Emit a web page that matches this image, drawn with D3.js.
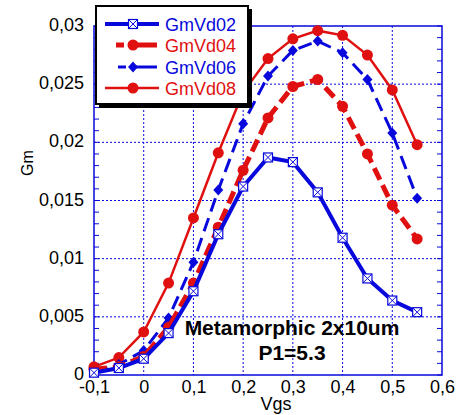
<!DOCTYPE html>
<html>
<head>
<meta charset="utf-8">
<script src="https://cdn.jsdelivr.net/npm/d3@7"></script>
<style>
  body { margin: 0; background: #fff; }
  text { font-family: "Liberation Sans", Arial, sans-serif; }
</style>
</head>
<body>
<div id="container"></div>
<script>
const vgs = [-0.1, -0.05, 0, 0.05, 0.1, 0.15, 0.2, 0.25, 0.3, 0.35, 0.4, 0.45, 0.5, 0.55];
const gmVd02 = [0.0002, 0.0006, 0.0014, 0.0036, 0.0072, 0.0121, 0.0162, 0.0187, 0.0183, 0.0157, 0.0118, 0.0083, 0.0064, 0.0054];
const gmVd04 = [0.0005, 0.0007, 0.0016, 0.0041, 0.0079, 0.0127, 0.0176, 0.0221, 0.0248, 0.0254, 0.0231, 0.0190, 0.0146, 0.0117];
const gmVd06 = [0.0003, 0.0009, 0.0021, 0.0049, 0.0097, 0.0159, 0.0216, 0.0257, 0.0279, 0.0287, 0.0277, 0.0254, 0.0208, 0.0152];
const gmVd08 = [0.0007, 0.0015, 0.0037, 0.0079, 0.0135, 0.0191, 0.0243, 0.0272, 0.0289, 0.0296, 0.0292, 0.0275, 0.0245, 0.0198];
const xTicks = [-0.1, 0, 0.1, 0.2, 0.3, 0.4, 0.5, 0.6];
const yTicks = [0, 0.005, 0.01, 0.015, 0.02, 0.025, 0.03];

const blue = '#0808dc';
const red = '#e01010';

const series = [
    { name: 'GmVd02', values: gmVd02, color: blue, width: 4, dash: null, marker: 'boxx' },
    { name: 'GmVd04', values: gmVd04, color: red, width: 5, dash: '13,6', marker: 'circle' },
    { name: 'GmVd06', values: gmVd06, color: blue, width: 3, dash: '14,7', marker: 'diamond' },
    { name: 'GmVd08', values: gmVd08, color: red, width: 2.5, dash: null, marker: 'circle' }
];

const W = 457, H = 415;
const pLeft = 94, pRight = 442, pTop = 26, pBottom = 375;

const x = d3.scaleLinear().domain([-0.1, 0.6]).range([pLeft, pRight]);
const y = d3.scaleLinear().domain([0, 0.03]).range([pBottom, pTop]);
const fmt = d => String(+d.toFixed(3)).replace('.', ',');

const svg = d3.select('#container').append('svg')
    .attr('width', W)
    .attr('height', H);

// grid
const grid = svg.append('g')
    .attr('stroke', blue)
    .attr('stroke-width', 1)
    .attr('stroke-dasharray', '2,2');
grid.selectAll('.gx').data(xTicks.slice(1, -1)).join('line')
    .attr('x1', d => x(d)).attr('x2', d => x(d))
    .attr('y1', pTop).attr('y2', pBottom);
grid.selectAll('.gy').data(yTicks.slice(1, -1)).join('line')
    .attr('x1', pLeft).attr('x2', pRight)
    .attr('y1', d => y(d)).attr('y2', d => y(d));

// axes
const yAxis = d3.axisLeft(y).tickValues(yTicks).tickFormat(fmt).tickSize(0).tickPadding(10);
const xAxis = d3.axisBottom(x).tickValues(xTicks).tickFormat(fmt).tickSize(0).tickPadding(5);

const gy = svg.append('g').attr('transform', `translate(${pLeft},0)`).call(yAxis);
const gx = svg.append('g').attr('transform', `translate(0,${pBottom})`).call(xAxis);
[gx, gy].forEach(g => {
    g.select('.domain').remove();
    g.selectAll('text').attr('fill', '#000').style('font-size', '18px');
});
gy.selectAll('text').attr('dy', '0.25em');

// minor ticks, left and right
const minor = d3.range(0, 0.0301, 0.001);
svg.append('g').selectAll('line').data(minor).join('line')
    .attr('x1', pLeft).attr('x2', pLeft + 5)
    .attr('y1', d => y(d)).attr('y2', d => y(d))
    .attr('stroke', blue);
svg.append('g').selectAll('line').data(minor).join('line')
    .attr('x1', pRight - 5).attr('x2', pRight)
    .attr('y1', d => y(d)).attr('y2', d => y(d))
    .attr('stroke', blue);

// frame
svg.append('rect')
    .attr('x', pLeft).attr('y', pTop)
    .attr('width', pRight - pLeft).attr('height', pBottom - pTop)
    .attr('fill', 'none')
    .attr('stroke', blue)
    .attr('stroke-width', 1.5);

// axis titles
svg.append('text').text('Vgs')
    .attr('x', 276).attr('y', 410)
    .attr('text-anchor', 'middle')
    .style('font-size', '18px');
svg.append('text').text('Gm')
    .attr('transform', 'translate(33 163) rotate(-90)')
    .attr('text-anchor', 'middle')
    .style('font-size', '16px');

// markers
function drawMarker(g, s, cx, cy) {
    if (s.marker === 'circle') {
        g.append('circle').attr('cx', cx).attr('cy', cy).attr('r', 5.5)
            .attr('fill', s.color);
    } else if (s.marker === 'diamond') {
        g.append('path')
            .attr('d', `M${cx},${cy - 5.5}L${cx + 5},${cy}L${cx},${cy + 5.5}L${cx - 5},${cy}Z`)
            .attr('fill', s.color);
    } else {
        const h = 4.5;
        g.append('rect').attr('x', cx - h).attr('y', cy - h)
            .attr('width', 2 * h).attr('height', 2 * h)
            .attr('fill', '#fff').attr('stroke', s.color).attr('stroke-width', 1.2);
        g.append('path')
            .attr('d', `M${cx - h},${cy - h}L${cx + h},${cy + h}M${cx + h},${cy - h}L${cx - h},${cy + h}`)
            .attr('stroke', s.color).attr('stroke-width', 1);
    }
}

const line = d3.line().x(d => x(d[0])).y(d => y(d[1]));
const plot = svg.append('g');
// draw back-to-front so GmVd02 is on top
series.slice().reverse().forEach(s => {
    const pts = vgs.map((v, i) => [v, s.values[i]]);
    plot.append('path')
        .attr('d', line(pts))
        .attr('fill', 'none')
        .attr('stroke', s.color)
        .attr('stroke-width', s.width)
        .attr('stroke-dasharray', s.dash);
    const mg = plot.append('g');
    pts.forEach(p => drawMarker(mg, s, x(p[0]), y(p[1])));
});

// annotation
svg.append('text').text('Metamorphic 2x10um')
    .attr('x', 292).attr('y', 335)
    .attr('text-anchor', 'middle')
    .style('font-size', '21px').style('font-weight', 'bold');
svg.append('text').text('P1=5.3')
    .attr('x', 292).attr('y', 360)
    .attr('text-anchor', 'middle')
    .style('font-size', '21px').style('font-weight', 'bold');

// legend
const lg = svg.append('g');
lg.append('rect').attr('x', 99).attr('y', 9).attr('width', 153).attr('height', 99).attr('fill', '#000');
lg.append('rect').attr('x', 96).attr('y', 6).attr('width', 152).attr('height', 98)
    .attr('fill', '#fff').attr('stroke', '#000').attr('stroke-width', 2);
const legendRows = [24, 45, 67, 88];
const legendSeg = [[105, 159], [116, 157], [118, 157], [105, 159]];
series.forEach((s, i) => {
    const ly = legendRows[i];
    lg.append('line')
        .attr('x1', legendSeg[i][0]).attr('x2', legendSeg[i][1])
        .attr('y1', ly).attr('y2', ly)
        .attr('stroke', s.color)
        .attr('stroke-width', s.width)
        .attr('stroke-dasharray', s.dash ? '8,7,30' : null);
    drawMarker(lg, s, 133, ly);
    lg.append('text').text(s.name)
        .attr('x', 165).attr('y', ly + 6.5)
        .attr('fill', s.color)
        .style('font-size', '18px');
});
</script>
</body>
</html>
